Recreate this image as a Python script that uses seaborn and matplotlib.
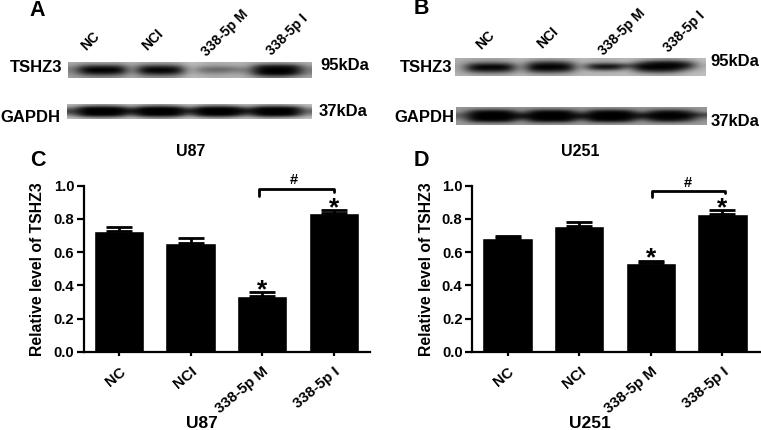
import numpy as np
import pandas as pd
import seaborn as sns
import matplotlib.pyplot as plt
from matplotlib.transforms import ScaledTranslation

W, H = 761, 430

groups = ['NC', 'NCI', '338-5p M', '338-5p I']
u87_vals = [0.725, 0.655, 0.335, 0.833]
u87_err = [0.028, 0.027, 0.027, 0.02]
u251_vals = [0.682, 0.755, 0.535, 0.832]
u251_err = [0.013, 0.027, 0.013, 0.02]
yticks = [0.0, 0.2, 0.4, 0.6, 0.8, 1.0]

blot_a_tshz3 = [
    [170, 160, 160, 160, 160, 180, 160, 160, 160, 165, 195, 180, 175, 175, 180, 175, 160, 150, 150, 160, 175],
    [150, 70, 60, 60, 70, 170, 80, 65, 65, 90, 190, 160, 150, 150, 165, 165, 40, 25, 25, 35, 150],
    [125, 5, 0, 0, 5, 165, 10, 5, 5, 20, 185, 115, 100, 100, 120, 130, 5, 0, 0, 5, 125],
    [130, 5, 0, 0, 5, 165, 10, 0, 0, 20, 185, 120, 110, 115, 135, 125, 5, 0, 0, 5, 125],
    [145, 65, 50, 50, 70, 170, 70, 55, 55, 80, 185, 160, 150, 155, 165, 145, 20, 0, 0, 30, 140],
    [160, 140, 135, 135, 145, 175, 145, 140, 140, 150, 190, 180, 175, 175, 180, 170, 130, 110, 115, 140, 165],
]
blot_a_gapdh = [
    [185, 165, 150, 150, 165, 190, 165, 150, 150, 170, 195, 170, 155, 155, 175, 190, 165, 155, 160, 170, 195],
    [130, 5, 0, 0, 5, 110, 5, 0, 0, 10, 125, 10, 0, 0, 15, 110, 5, 0, 0, 15, 150],
    [70, 0, 0, 0, 0, 25, 0, 0, 0, 0, 35, 0, 0, 0, 0, 25, 0, 0, 0, 0, 105],
    [75, 0, 0, 0, 0, 45, 0, 0, 0, 0, 60, 0, 0, 0, 0, 45, 0, 0, 0, 0, 110],
    [135, 10, 0, 0, 10, 120, 5, 0, 0, 10, 135, 15, 0, 0, 25, 120, 10, 0, 0, 25, 155],
    [190, 170, 155, 155, 170, 190, 165, 150, 150, 170, 195, 175, 160, 160, 180, 190, 170, 160, 170, 180, 195],
]
blot_b_tshz3 = [
    [175, 170, 165, 165, 170, 185, 170, 160, 160, 170, 185, 180, 175, 180, 185, 175, 160, 150, 150, 170, 190],
    [170, 130, 115, 115, 130, 180, 85, 60, 60, 90, 185, 160, 150, 155, 180, 85, 25, 15, 20, 70, 185],
    [165, 20, 5, 5, 20, 175, 5, 0, 0, 10, 180, 15, 5, 5, 70, 5, 0, 0, 0, 10, 170],
    [165, 0, 0, 0, 5, 175, 0, 0, 0, 5, 180, 50, 25, 35, 150, 5, 0, 0, 5, 80, 180],
    [170, 80, 65, 65, 85, 180, 75, 60, 65, 90, 185, 170, 165, 170, 185, 95, 65, 65, 90, 165, 185],
    [180, 170, 165, 165, 170, 185, 170, 165, 165, 170, 185, 185, 185, 185, 185, 180, 170, 170, 175, 185, 190],
]
blot_b_gapdh = [
    [150, 150, 145, 145, 150, 150, 145, 145, 145, 150, 150, 150, 145, 145, 150, 150, 150, 150, 150, 150, 150],
    [150, 25, 0, 0, 15, 140, 15, 0, 0, 15, 140, 15, 0, 0, 20, 140, 40, 10, 10, 60, 150],
    [90, 0, 0, 0, 0, 30, 0, 0, 0, 0, 30, 0, 0, 0, 0, 25, 0, 0, 0, 0, 50],
    [105, 0, 0, 0, 0, 25, 0, 0, 0, 0, 25, 0, 0, 0, 0, 40, 0, 0, 0, 5, 110],
    [150, 15, 0, 0, 10, 140, 10, 0, 0, 10, 140, 10, 0, 0, 25, 140, 50, 15, 25, 70, 150],
    [155, 150, 145, 145, 150, 155, 145, 145, 145, 150, 155, 150, 150, 150, 155, 155, 155, 155, 155, 155, 155],
]

sns.set_theme(style='ticks')
plt.rcParams['font.family'] = ['Liberation Sans', 'DejaVu Sans']
plt.rcParams['font.weight'] = 'bold'

fig = plt.figure(figsize=(W / 100, H / 100), dpi=100)


def box(left, top, right, bottom):
    return [left / W, 1 - bottom / H, (right - left) / W, (bottom - top) / H]


def label(x, y, s, size=10, ha='center', rot=0):
    fig.text(x / W, 1 - y / H, s, fontsize=size, fontweight='bold', ha=ha, va='center',
             rotation=rot, rotation_mode='anchor', color='black')


def blot(grid, left, top, right, bottom):
    ax = fig.add_axes(box(left, top, right, bottom))
    ax.imshow(np.array(grid), cmap='gray', vmin=0, vmax=255, aspect='auto', interpolation='bicubic')
    ax.axis('off')


def bar_panel(vals, err, left, right, x0, br_x, br_y, star_y, hash_xy, y_lab):
    ax = fig.add_axes(box(left, 185.7, right, 351.7))
    df = pd.DataFrame({'group': groups, 'value': vals})
    sns.barplot(data=df, x='group', y='value', order=groups, color='black', width=0.705,
                saturation=1, errorbar=None, ax=ax)
    ax.errorbar(range(4), vals, yerr=[[0] * 4, err], fmt='none', ecolor='black',
                elinewidth=2, capsize=9.5, capthick=2, clip_on=False)
    ax.set_xlim((left - x0) / 71.6, (right - x0) / 71.6)
    ax.set_ylim(0, 1)
    ax.set_yticks(yticks)
    ax.set_yticklabels(['%.1f' % t for t in yticks], fontsize=10.7, fontweight='bold')
    ax.set_xticks(range(4))
    ax.set_xticklabels(groups, fontsize=10.8, fontweight='bold', rotation=40, ha='right',
                       rotation_mode='anchor')
    # the lane names sit a little right of their ticks
    for tick_label, shift in zip(ax.get_xticklabels(), [4, 4, 11, 4]):
        tick_label.set_transform(tick_label.get_transform()
                                 + ScaledTranslation(shift / 100, 0, fig.dpi_scale_trans))
    ax.set_xlabel('')
    ax.set_ylabel('Relative level of TSHZ3', fontsize=11.3, fontweight='bold', color='black')
    ax.yaxis.set_label_coords(y_lab, 0.5, transform=ax.transAxes)
    ax.tick_params(axis='y', length=5, width=1.6, pad=2, color='black', labelcolor='black')
    ax.tick_params(axis='x', length=3, width=1.6, pad=6, color='black', labelcolor='black')
    sns.despine(ax=ax)
    for side in ['left', 'bottom']:
        ax.spines[side].set_linewidth(1.6)
        ax.spines[side].set_color('black')
    ax.plot([br_x[0], br_x[0], br_x[1], br_x[1]], br_y, color='black', lw=2, clip_on=False)
    for i, y in star_y:
        ax.text(i, y, '*', fontsize=19, fontweight='bold', ha='center', va='center', color='black')
    ax.text(hash_xy[0], hash_xy[1], '#', fontsize=10.5, fontweight='bold', ha='center', va='center',
            color='black', clip_on=False)
    return ax


blot(blot_a_tshz3, 68, 62, 312, 78)
blot(blot_a_gapdh, 67, 104, 312, 119)
blot(blot_b_tshz3, 455, 58, 706, 76)
blot(blot_b_gapdh, 456, 107, 706, 125)

bar_panel(u87_vals, u87_err, 84, 370, 119, (1.955, 3.0), [0.94, 0.978, 0.978, 0.964],
          [(2, 0.37), (3, 0.865)], (2.44, 1.035), -0.136)
bar_panel(u251_vals, u251_err, 472.3, 760, 507.6, (2.01, 3.04), [0.934, 0.968, 0.968, 0.954],
          [(2, 0.56), (3, 0.865)], (2.52, 1.015), -0.133)

for x, y, s in [(37, 10, 'A'), (421, 9, 'B'), (38, 161, 'C'), (421, 161, 'D')]:
    label(x, y, s, size=15.5)

label(191, 152, 'U87', size=11.5)
label(580, 152, 'U251', size=11.5)
label(202, 423, 'U87', size=12.5)
label(590, 423, 'U251', size=12.5)

label(36, 67, 'TSHZ3', size=12)
label(30, 118, 'GAPDH', size=12)
label(345, 65, '95kDa', size=12)
label(343, 111, '37kDa', size=12)
label(426, 67, 'TSHZ3', size=12)
label(424, 117, 'GAPDH', size=12)
label(735, 62, '95kDa', size=12)
label(735, 121, '37kDa', size=12)

# lane labels above the blots
for x, y, s in [(90, 41, 'NC'), (153, 40, 'NCI'), (225, 33, '338-5p M'), (287, 35, '338-5p I')]:
    label(x, y, s, size=10, rot=45)
for x, y, s in [(485, 40, 'NC'), (548, 38, 'NCI'), (622, 32, '338-5p M'), (684, 32, '338-5p I')]:
    label(x, y, s, size=10, rot=45)

fig.savefig('out.png', dpi=100, facecolor='white')
